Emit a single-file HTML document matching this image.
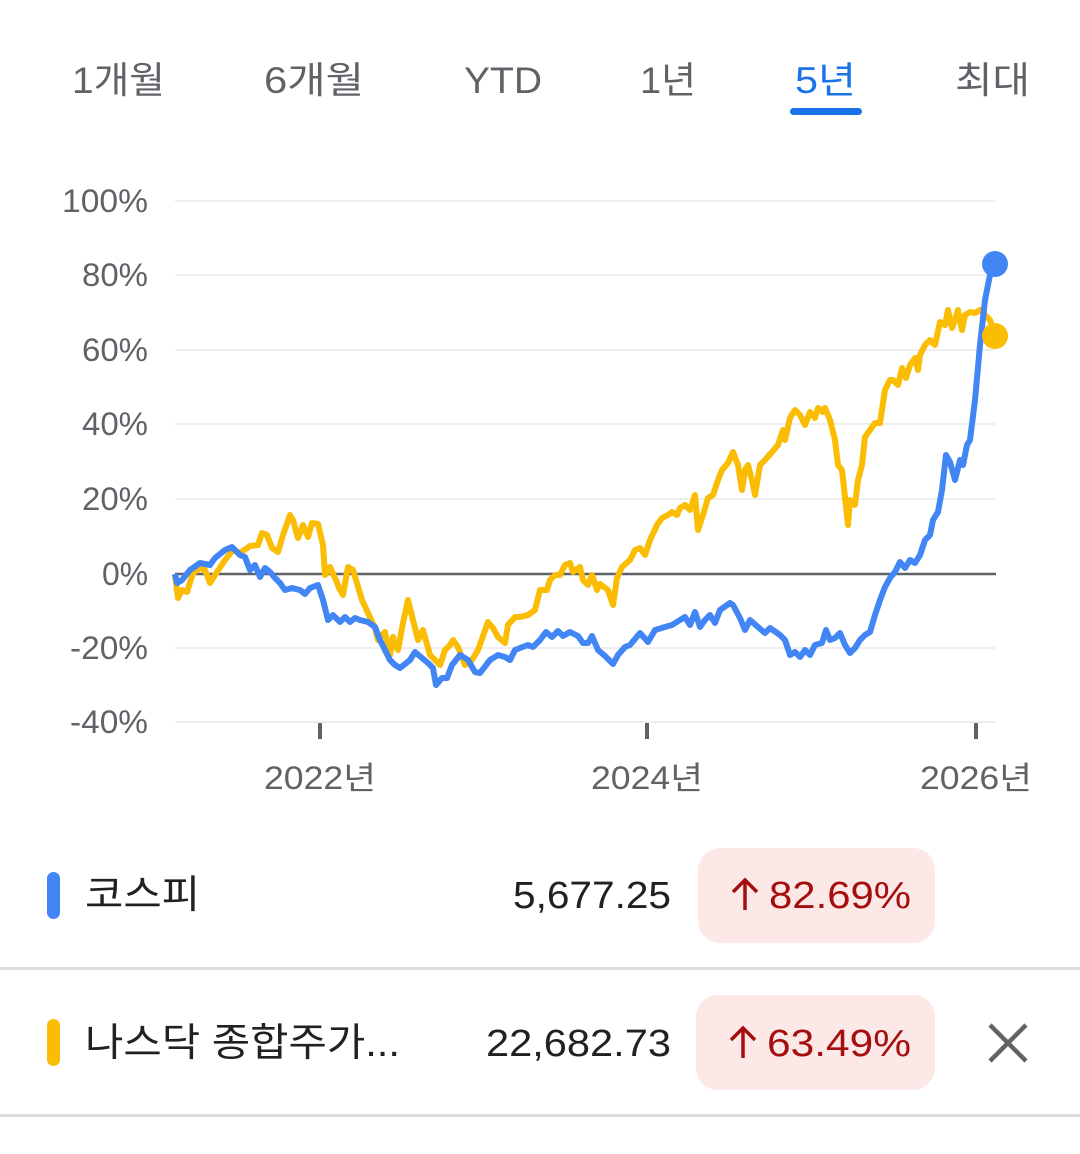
<!DOCTYPE html>
<html><head><meta charset="utf-8"><style>
html,body{margin:0;padding:0;background:#fff;}
svg{display:block;font-family:"Liberation Sans","Noto Sans CJK KR",sans-serif;}
</style></head><body>
<svg width="1080" height="1154" viewBox="0 0 1080 1154" xmlns="http://www.w3.org/2000/svg">
<g font-size="37" fill="#5f6368">
<text x="72" y="93" textLength="93" lengthAdjust="spacingAndGlyphs">1개월</text>
<text x="264" y="93" textLength="100" lengthAdjust="spacingAndGlyphs">6개월</text>
<text x="464" y="93" textLength="78" lengthAdjust="spacingAndGlyphs">YTD</text>
<text x="640" y="93" textLength="56" lengthAdjust="spacingAndGlyphs">1년</text>
<text x="795" y="93" textLength="61" lengthAdjust="spacingAndGlyphs" fill="#1a73e8">5년</text>
<text x="955" y="93" textLength="75" lengthAdjust="spacingAndGlyphs">최대</text>
</g>
<rect x="790" y="108" width="72" height="7" rx="3.5" fill="#1a73e8"/>
<g stroke="#eeeeee" stroke-width="2">
<line x1="175" y1="201" x2="995" y2="201"/><line x1="175" y1="275" x2="995" y2="275"/>
<line x1="175" y1="350" x2="995" y2="350"/><line x1="175" y1="424" x2="995" y2="424"/>
<line x1="175" y1="499" x2="995" y2="499"/><line x1="175" y1="648" x2="995" y2="648"/>
<line x1="175" y1="722" x2="995" y2="722"/>
</g>
<line x1="175" y1="574" x2="996" y2="574" stroke="#5f6368" stroke-width="2.5"/>
<g font-size="32" fill="#5f6368" text-anchor="end" lengthAdjust="spacingAndGlyphs">
<text x="148" y="212" textLength="86" lengthAdjust="spacingAndGlyphs">100%</text><text x="148" y="286" textLength="66" lengthAdjust="spacingAndGlyphs">80%</text><text x="148" y="361" textLength="66" lengthAdjust="spacingAndGlyphs">60%</text>
<text x="148" y="435" textLength="66" lengthAdjust="spacingAndGlyphs">40%</text><text x="148" y="510" textLength="66" lengthAdjust="spacingAndGlyphs">20%</text><text x="148" y="585" textLength="46" lengthAdjust="spacingAndGlyphs">0%</text>
<text x="148" y="659" textLength="78" lengthAdjust="spacingAndGlyphs">-20%</text><text x="148" y="733" textLength="78" lengthAdjust="spacingAndGlyphs">-40%</text>
</g>
<g stroke="#5f6368" stroke-width="4">
<line x1="320" y1="723" x2="320" y2="739"/><line x1="647" y1="723" x2="647" y2="739"/><line x1="976" y1="723" x2="976" y2="739"/>
</g>
<g font-size="32" fill="#5f6368" text-anchor="middle">
<text x="320" y="789" textLength="112" lengthAdjust="spacingAndGlyphs">2022년</text><text x="647" y="789" textLength="112" lengthAdjust="spacingAndGlyphs">2024년</text><text x="976" y="789" textLength="112" lengthAdjust="spacingAndGlyphs">2026년</text>
</g>
<polyline fill="none" stroke="#fbbc04" stroke-width="6" stroke-linejoin="round" points="175,575 178,598 182,590 187,592 193,573 200,568 205,570 210,583 215,575 225,560 233,550 240,553 250,546 258,545 262,533 267,535 272,548 278,552 283,535 290,515 293,520 298,538 303,525 308,537 312,523 318,524 323,545 325,575 330,567 335,578 340,590 343,595 348,567 353,570 356,580 362,600 368,613 375,628 378,640 385,632 390,655 393,637 395,645 398,650 403,623 408,600 413,620 418,640 423,630 430,655 435,660 440,665 445,650 450,645 453,640 458,647 465,665 472,660 478,650 488,622 493,628 498,637 505,643 508,625 515,617 520,617 528,615 535,610 540,590 547,590 550,580 555,575 560,575 565,565 570,563 573,572 580,567 583,580 588,585 592,575 597,590 600,584 608,590 613,605 617,578 622,567 630,560 635,550 640,548 645,555 650,540 657,525 662,518 668,515 672,512 677,515 680,508 685,505 690,510 695,495 698,530 703,515 708,498 713,495 718,480 722,470 728,463 733,452 738,465 742,490 745,470 748,465 752,480 755,495 760,465 765,460 772,452 778,445 783,430 785,440 790,418 795,410 800,415 805,425 810,412 815,418 818,408 823,412 825,408 830,420 835,440 838,465 842,470 845,497 848,525 850,500 855,505 858,480 862,465 865,437 870,430 875,423 880,423 885,390 890,380 893,380 898,385 902,368 906,378 910,365 915,358 918,370 920,355 925,345 930,340 935,345 940,322 945,325 948,310 952,328 955,320 958,310 962,330 965,315 970,312 975,313 980,310 985,315 990,320 995,336"/>
<polyline fill="none" stroke="#4285f4" stroke-width="6" stroke-linejoin="round" points="175,574 177,583 182,580 190,570 200,563 210,565 215,558 225,550 232,547 240,555 245,557 250,570 255,565 260,577 265,568 270,572 275,578 280,583 285,590 292,588 300,590 305,594 310,588 318,585 323,600 328,620 333,615 340,622 345,617 350,622 355,618 360,620 368,622 375,627 380,640 390,660 395,665 400,668 410,660 415,652 422,658 428,663 433,668 436,685 442,678 447,678 452,665 460,655 468,660 475,672 480,673 490,660 498,655 505,657 510,660 515,650 520,648 528,645 533,647 540,640 546,632 552,637 558,631 563,636 570,632 578,636 583,643 588,643 592,636 598,650 605,656 613,664 618,655 625,647 630,645 640,633 648,642 655,630 665,627 672,625 680,620 685,617 690,625 695,612 700,627 705,620 710,615 715,623 720,610 730,603 733,605 740,618 745,630 750,620 758,627 765,633 770,628 780,635 785,640 790,655 795,652 800,657 805,650 810,655 815,645 822,643 826,630 830,640 835,638 840,633 845,645 850,653 855,648 860,640 865,635 870,632 875,615 880,600 885,587 890,578 895,572 900,562 905,568 910,560 915,563 920,555 925,540 930,535 933,520 938,512 942,490 946,455 950,462 955,480 960,460 963,465 967,445 970,440 975,400 980,345 985,300 990,275 995,264"/>
<circle cx="995" cy="264" r="13" fill="#4285f4"/>
<circle cx="995" cy="336" r="13" fill="#fbbc04"/>
<rect x="47" y="872" width="13" height="47" rx="6.5" fill="#4285f4"/>
<text x="85" y="908" font-size="39" fill="#202124" textLength="115" lengthAdjust="spacingAndGlyphs">코스피</text>
<text x="671" y="908" font-size="38" fill="#202124" text-anchor="end" textLength="158" lengthAdjust="spacingAndGlyphs">5,677.25</text>
<rect x="698" y="848" width="237" height="95" rx="22" fill="#fce8e6"/>
<g stroke="#a50e0e" stroke-width="3.5" fill="none"><line x1="745" y1="880" x2="745" y2="910"/><polyline points="733,892 745,880 757,892"/></g>
<text x="769" y="908" font-size="38" fill="#a50e0e" textLength="142" lengthAdjust="spacingAndGlyphs">82.69%</text>
<rect x="0" y="967" width="1080" height="3" fill="#dadce0"/>
<rect x="47" y="1019" width="13" height="47" rx="6.5" fill="#fbbc04"/>
<text x="85" y="1056" font-size="39" fill="#202124" textLength="315" lengthAdjust="spacingAndGlyphs">나스닥 종합주가...</text>
<text x="671" y="1056" font-size="38" fill="#202124" text-anchor="end" textLength="185" lengthAdjust="spacingAndGlyphs">22,682.73</text>
<rect x="696" y="995" width="239" height="95" rx="22" fill="#fce8e6"/>
<g stroke="#a50e0e" stroke-width="3.5" fill="none"><line x1="743" y1="1028" x2="743" y2="1058"/><polyline points="731,1040 743,1028 755,1040"/></g>
<text x="767" y="1056" font-size="38" fill="#a50e0e" textLength="144" lengthAdjust="spacingAndGlyphs">63.49%</text>
<g stroke="#5f6368" stroke-width="4.5"><line x1="990" y1="1025" x2="1026" y2="1061"/><line x1="1026" y1="1025" x2="990" y2="1061"/></g>
<rect x="0" y="1114" width="1080" height="3" fill="#dadce0"/>
</svg>
</body></html>
